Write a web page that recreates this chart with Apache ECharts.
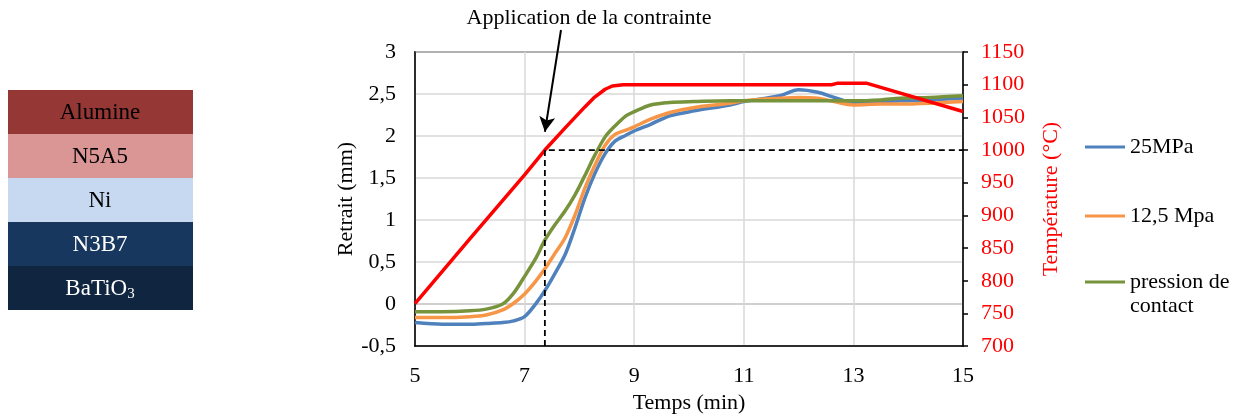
<!DOCTYPE html>
<html>
<head>
<meta charset="utf-8">
<script src="https://cdn.jsdelivr.net/npm/echarts@6/dist/echarts.min.js"></script>
<style>
html,body{margin:0;padding:0;background:#fff;}
#chart{width:1241px;height:419px;}
</style>
</head>
<body>
<div id="chart"></div>
<script>
// ---- Data ----
const timeRetrait = [5, 5.5, 6, 6.3, 6.6, 6.8, 7.0, 7.2, 7.37, 7.55, 7.74, 7.92, 8.1, 8.28, 8.47, 8.65, 8.85, 9.0, 9.3, 9.65, 10.1, 10.75, 11, 11.65, 12.0, 12.35, 12.65, 13.0, 13.5, 13.85, 14.4, 15];
const retrait25MPa = [-0.22, -0.24, -0.24, -0.23, -0.22, -0.20, -0.15, 0.0, 0.16, 0.36, 0.59, 0.91, 1.26, 1.55, 1.79, 1.94, 2.01, 2.06, 2.14, 2.24, 2.30, 2.37, 2.41, 2.48, 2.55, 2.52, 2.46, 2.40, 2.41, 2.42, 2.43, 2.45];
const retrait12MPa = [-0.16, -0.16, -0.15, -0.13, -0.07, 0.01, 0.12, 0.27, 0.42, 0.60, 0.79, 1.06, 1.38, 1.65, 1.89, 2.02, 2.07, 2.11, 2.20, 2.28, 2.34, 2.39, 2.42, 2.45, 2.46, 2.45, 2.41, 2.37, 2.38, 2.38, 2.39, 2.41];
const retraitContact = [-0.09, -0.09, -0.08, -0.06, 0.0, 0.13, 0.33, 0.54, 0.76, 0.94, 1.11, 1.30, 1.53, 1.77, 1.99, 2.12, 2.24, 2.29, 2.37, 2.40, 2.41, 2.42, 2.42, 2.42, 2.42, 2.42, 2.42, 2.42, 2.43, 2.45, 2.46, 2.48];
const timeTemp = [5, 6, 7, 7.37, 7.74, 7.92, 8.1, 8.28, 8.47, 8.6, 8.8, 12.6, 12.7, 13.25, 15];
const temperature = [765, 864, 962, 1000, 1034, 1050, 1066, 1081, 1093, 1098, 1100, 1100, 1102, 1102, 1059];
const seriesNames = ['25MPa', '12,5 Mpa', 'pression de\ncontact'];
const applicationTime = 7.37;
const thresholdTemp = 1000;
const annotationTemp = 1028;
const layerNames = ['Alumine', 'N5A5', 'Ni', 'N3B7', 'BaTiO{sub|3}'];
const layerColors = ['#953735', '#da9694', '#c6d9f1', '#17375e', '#10253f'];
const layerTextColors = ['#000000', '#000000', '#000000', '#ffffff', '#ffffff'];

const FONT = '"Liberation Serif", "Times New Roman", serif';
const FS = 22;
const pair = (xs, ys) => xs.map((x, i) => [x, ys[i]]);
const comma = v => String(v).replace('.', ',');

const layerGraphics = [];
layerNames.forEach((n, i) => {
  layerGraphics.push({
    type: 'rect', left: 8, top: 90 + i * 44,
    shape: { width: 185, height: 44 },
    style: { fill: layerColors[i] }, silent: true
  });
  layerGraphics.push({
    type: 'text', x: 100, y: 90 + i * 44 + 23,
    style: {
      text: n, fill: layerTextColors[i], font: '23px ' + FONT,
      align: 'center', verticalAlign: 'middle',
      rich: { sub: { fontSize: 15, fontFamily: FONT, fill: layerTextColors[i], padding: [11, 0, 0, 0] } }
    }, silent: true
  });
});

const chart = echarts.init(document.getElementById('chart'));
const lineColors = ['#4f81bd', '#f79646', '#77933c'];
const retraitSets = [retrait25MPa, retrait12MPa, retraitContact];

const option = {
  animation: false,
  backgroundColor: '#ffffff',
  textStyle: { fontFamily: FONT },
  grid: { left: 415, right: 278, top: 52, bottom: 69, show: true, borderColor: '#000', borderWidth: 1.5, containLabel: false },
  graphic: layerGraphics.concat([{
    type: 'text', x: 589, y: 18,
    style: { text: 'Application de la contrainte', font: FS + 'px ' + FONT, fill: '#000', align: 'center', verticalAlign: 'middle' },
    silent: true
  }]),
  legend: [{
    orient: 'vertical', left: 1085, top: 135, itemGap: 45, padding: 0,
    icon: 'rect', itemWidth: 40, itemHeight: 3,
    textStyle: { fontFamily: FONT, fontSize: FS, color: '#000', lineHeight: 24 },
    data: [seriesNames[0], seriesNames[1]]
  }, {
    orient: 'vertical', left: 1085, top: 246, padding: 0,
    icon: 'rect', itemWidth: 40, itemHeight: 3,
    formatter: name => ' \n' + name,
    textStyle: { fontFamily: FONT, fontSize: FS, color: '#000', lineHeight: 24 },
    data: [seriesNames[2]]
  }],
  xAxis: {
    type: 'value', min: 5, max: 15, interval: 2,
    name: 'Temps (min)', nameLocation: 'middle', nameGap: 42,
    nameTextStyle: { fontFamily: FONT, fontSize: FS, color: '#000' },
    axisLine: { onZero: false, lineStyle: { color: '#000', width: 1.5 } },
    axisTick: { show: false },
    axisLabel: { fontFamily: FONT, fontSize: FS, color: '#000', margin: 19 },
    splitLine: { show: true, lineStyle: { color: '#d9d9d9', width: 1.5 } }
  },
  yAxis: [{
    type: 'value', min: -0.5, max: 3, interval: 0.5,
    name: 'Retrait (mm)', nameLocation: 'middle', nameGap: 58, nameRotate: 90,
    nameTextStyle: { fontFamily: FONT, fontSize: FS, color: '#000' },
    axisLine: { show: true, lineStyle: { color: '#000', width: 1.5 } },
    axisTick: { show: false },
    axisLabel: { fontFamily: FONT, fontSize: FS, color: '#000', margin: 19, formatter: comma },
    splitLine: { show: true, lineStyle: { color: ['#d9d9d9', '#bfbfbf', '#d9d9d9', '#d9d9d9', '#d9d9d9', '#d9d9d9', '#d9d9d9', '#d9d9d9'], width: 1.5 } }
  }, {
    type: 'value', min: 700, max: 1150, interval: 50, position: 'right',
    name: 'Température (°C)', nameLocation: 'middle', nameGap: 77, nameRotate: 90,
    nameTextStyle: { fontFamily: FONT, fontSize: FS, color: '#ff0000' },
    axisLine: { show: true, lineStyle: { color: '#000', width: 1.5 } },
    axisTick: { show: true, inside: false, length: 5, lineStyle: { color: '#000', width: 1.5 } },
    axisLabel: { fontFamily: FONT, fontSize: FS, color: '#ff0000', margin: 18, formatter: v => String(v) },
    splitLine: { show: false }
  }],
  series: retraitSets.map((d, i) => ({
    name: seriesNames[i], type: 'line', yAxisIndex: 0,
    data: pair(timeRetrait, d), showSymbol: false, symbol: 'none',
    smooth: 0.3,
    lineStyle: { color: lineColors[i], width: 3.5 }, itemStyle: { color: lineColors[i] }, z: 3 + i
  })).concat([{
    name: 'Température', type: 'line', yAxisIndex: 1,
    data: pair(timeTemp, temperature), showSymbol: false, symbol: 'none',
    smooth: false,
    lineStyle: { color: '#ff0000', width: 3.5, join: 'round' }, itemStyle: { color: '#ff0000' }, z: 7,
    markLine: {
      silent: true, symbol: ['none', 'arrow'], symbolSize: [12, 15],
      label: { show: false },
      lineStyle: { color: '#000', width: 2, type: 'solid' },
      data: [[{ x: 561, y: 30 }, { coord: [applicationTime, annotationTemp] }]]
    }
  }, {
    name: 'guide', type: 'line', yAxisIndex: 1,
    data: [[applicationTime, 700], [applicationTime, thresholdTemp], [15, thresholdTemp]],
    showSymbol: false, symbol: 'none',
    lineStyle: { color: '#000', width: 1.8, type: [6, 4] }, z: 8
  }])
};
chart.setOption(option);
</script>
</body>
</html>
